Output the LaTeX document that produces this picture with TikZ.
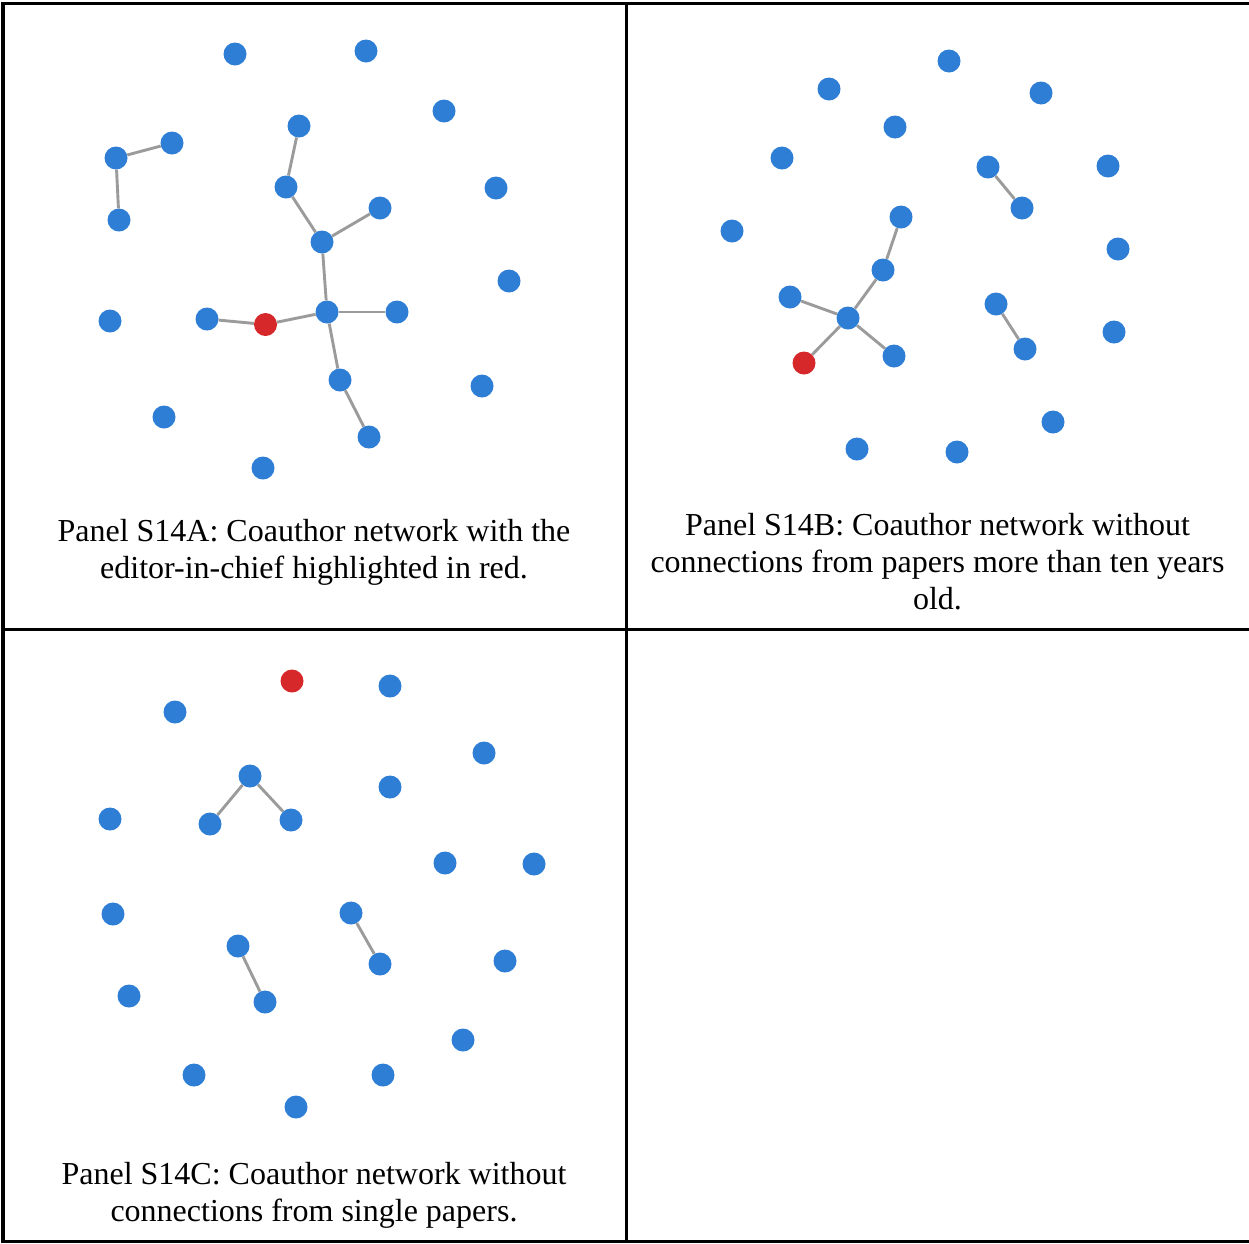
\documentclass[tikz,border=0pt]{standalone}
\usepackage{fontspec}
\setmainfont{Liberation Serif}
\definecolor{nodeblue}{RGB}{46,126,214}
\definecolor{nodered}{RGB}{214,40,42}
\definecolor{edgegray}{RGB}{155,155,155}
\begin{document}
\begin{tikzpicture}[x=1pt,y=-1pt,
  au/.style={circle,fill=nodeblue,inner sep=0pt,minimum size=23pt},
  ed/.style={circle,fill=nodered,inner sep=0pt,minimum size=23pt},
  link/.style={draw=edgegray,line width=2.9pt},
  frameline/.style={line width=3.6pt,line cap=rect},
  captext/.style={font=\fontsize{32}{37}\selectfont,align=center,anchor=north,inner sep=0pt}]
\useasboundingbox (0,0) rectangle (1249,1243);
% frame
\draw[frameline] (1249,3.5) -- (2.8,3.5) -- (2.8,1241.3) -- (1249,1241.3);
\draw[frameline] (626.5,3.5) -- (626.5,1241.3);
\draw[frameline] (2.8,629.5) -- (1249,629.5);
% ---------- Panel A ----------
\node[au] (a1) at (235,54) {};
\node[au] (a2) at (366,51) {};
\node[au] (a3) at (444,111) {};
\node[au] (a4) at (299,126) {};
\node[au] (a5) at (116,158) {};
\node[au] (a6) at (172,143) {};
\node[au] (a7) at (119,220) {};
\node[au] (a8) at (286,187) {};
\node[au] (a9) at (496,188) {};
\node[au] (a10) at (380,208) {};
\node[au] (a11) at (322,242) {};
\node[au] (a12) at (509,281) {};
\node[au] (a13) at (110,321) {};
\node[au] (a14) at (207,319) {};
\node[ed] (ar) at (265.5,324.5) {};
\node[au] (a15) at (327,312) {};
\node[au] (a16) at (397,312) {};
\node[au] (a17) at (340,380) {};
\node[au] (a18) at (482,386) {};
\node[au] (a19) at (164,417) {};
\node[au] (a20) at (369,437) {};
\node[au] (a21) at (263,468) {};
\draw[link] (a5) -- (a6);
\draw[link] (a5) -- (a7);
\draw[link] (a4) -- (a8);
\draw[link] (a8) -- (a11);
\draw[link] (a11) -- (a10);
\draw[link] (a11) -- (a15);
\draw[link] (a15) -- (a16);
\draw[link] (a15) -- (ar);
\draw[link] (ar) -- (a14);
\draw[link] (a15) -- (a17);
\draw[link] (a17) -- (a20);
\node[captext] (capA) at (314,519) {Panel S14A: Coauthor network with the\\editor-in-chief highlighted in red.};
% ---------- Panel B ----------
\node[au] (b1) at (949,61) {};
\node[au] (b2) at (829,89) {};
\node[au] (b3) at (1041,93) {};
\node[au] (b4) at (895,127) {};
\node[au] (b5) at (782,158) {};
\node[au] (b6) at (988,167) {};
\node[au] (b7) at (1108,166) {};
\node[au] (b8) at (1022,208) {};
\node[au] (b9) at (901,217) {};
\node[au] (b10) at (732,231) {};
\node[au] (b11) at (1118,249) {};
\node[au] (b12) at (883,270) {};
\node[au] (b13) at (790,297) {};
\node[au] (b14) at (996,304) {};
\node[au] (b15) at (848,318) {};
\node[au] (b16) at (1114,332) {};
\node[au] (b17) at (1025,349) {};
\node[au] (b18) at (894,356) {};
\node[ed] (br) at (804,363) {};
\node[au] (b19) at (1053,422) {};
\node[au] (b20) at (857,449) {};
\node[au] (b21) at (957,452) {};
\draw[link] (b6) -- (b8);
\draw[link] (b9) -- (b12);
\draw[link] (b12) -- (b15);
\draw[link] (b13) -- (b15);
\draw[link] (b15) -- (b18);
\draw[link] (b15) -- (br);
\draw[link] (b14) -- (b17);
\node[captext] (capB) at (937.5,513) {Panel S14B: Coauthor network without\\connections from papers more than ten years\\old.};
% ---------- Panel C ----------
\node[ed] (cr) at (292,681) {};
\node[au] (c1) at (390,686) {};
\node[au] (c2) at (175,712) {};
\node[au] (c3) at (484,753) {};
\node[au] (c4) at (250,776) {};
\node[au] (c5) at (390,787) {};
\node[au] (c6) at (110,819) {};
\node[au] (c7) at (210,824) {};
\node[au] (c8) at (291,820) {};
\node[au] (c9) at (445,863) {};
\node[au] (c10) at (534,864) {};
\node[au] (c11) at (113,914) {};
\node[au] (c12) at (351,913) {};
\node[au] (c13) at (238,946) {};
\node[au] (c14) at (380,964) {};
\node[au] (c15) at (505,961) {};
\node[au] (c16) at (129,996) {};
\node[au] (c17) at (265,1002) {};
\node[au] (c18) at (463,1040) {};
\node[au] (c19) at (194,1075) {};
\node[au] (c20) at (383,1075) {};
\node[au] (c21) at (296,1107) {};
\draw[link] (c4) -- (c7);
\draw[link] (c4) -- (c8);
\draw[link] (c12) -- (c14);
\draw[link] (c13) -- (c17);
\node[captext] (capC) at (314,1162) {Panel S14C: Coauthor network without\\connections from single papers.};
\end{tikzpicture}
\end{document}
